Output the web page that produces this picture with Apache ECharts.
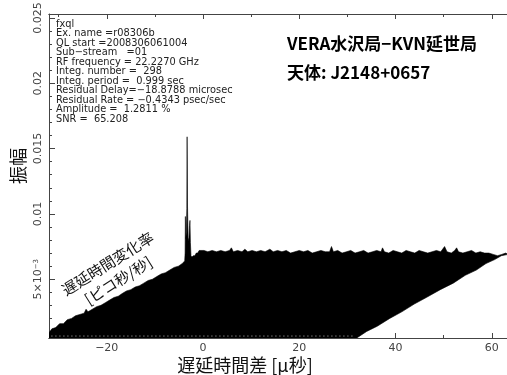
<!DOCTYPE html>
<html>
<head>
<meta charset="utf-8">
<script src="https://cdn.jsdelivr.net/npm/echarts@6/dist/echarts.min.js"></script>
<style>
  html, body { margin: 0; padding: 0; background: #fff; }
  #chart { width: 507px; height: 375px; }
</style>
</head>
<body>
<div id="chart"></div>
<script>
// delay axis (microsec)
const delayMin = -32;
const delayMax = 64;
const delayMajorTicks = [-20, 0, 20, 40, 60];
const delayMinorTicks = [-30, -10, 10, 30, 50];

// amplitude axis
const ampMin = 0.0005;
const ampMax = 0.0253;
const ampMajorTicks = [0.005, 0.01, 0.015, 0.02, 0.025];
const ampMinorTicks = [0.001, 0.002, 0.003, 0.004, 0.006, 0.007, 0.008, 0.009, 0.011, 0.012,
  0.013, 0.014, 0.016, 0.017, 0.018, 0.019, 0.021, 0.022, 0.023, 0.024];
const ampTickLabels = { 0.005: "5×10{sup|−3}", 0.01: "0.01", 0.015: "0.015", 0.02: "0.02", 0.025: "0.025" };

// outline of the delay / rate fringe surface, [delay, amplitude]
const leftEdge = [
  [-32, 0.0005], [-32, 0.0009], [-31.4, 0.0012], [-30.6, 0.0013], [-29.8, 0.0016], [-29.0, 0.0016],
  [-28.2, 0.0019], [-27.3, 0.0020], [-26.5, 0.0022], [-25.6, 0.0023], [-24.7, 0.0024], [-24.3, 0.0027],
  [-23.9, 0.0025], [-23.0, 0.0027], [-22.1, 0.0029], [-21.2, 0.0030], [-20.3, 0.0032], [-19.4, 0.0034],
  [-18.5, 0.0036], [-17.6, 0.0037], [-16.8, 0.0039], [-15.9, 0.0041], [-15.0, 0.0042], [-14.1, 0.0044],
  [-13.2, 0.0045], [-12.3, 0.0047], [-11.4, 0.0049], [-10.5, 0.0050], [-9.6, 0.0052], [-8.7, 0.0054],
  [-7.8, 0.0055], [-6.9, 0.0057], [-6.0, 0.0059], [-5.1, 0.0060], [-4.3, 0.0062], [-3.8, 0.0064],
];
const spike = [
  [-3.72, 0.0070], [-3.66, 0.0098], [-3.58, 0.0081], [-3.46, 0.0086], [-3.36, 0.0104], [-3.30, 0.0159],
  [-3.22, 0.0106], [-3.10, 0.0082], [-2.95, 0.0079], [-2.80, 0.0091], [-2.71, 0.0095], [-2.62, 0.0078],
  [-2.50, 0.0068], [-2.3, 0.0067], [-2.0, 0.0068], [-1.7, 0.0068], [-1.4, 0.0070], [-1.1, 0.0070],
];
const topEdge = [
  [-0.8, 0.0072], [0.2, 0.0072], [1.0, 0.0071], [1.9, 0.0072], [2.8, 0.0071], [3.7, 0.0072], [4.6, 0.0071],
  [5.5, 0.0072], [5.9, 0.0074], [6.3, 0.0071], [7.2, 0.0072], [8.1, 0.0071], [8.7, 0.0073], [9.3, 0.0071],
  [10.2, 0.0072], [11.1, 0.0071], [12.0, 0.0072], [12.9, 0.0071], [13.9, 0.0073], [14.6, 0.0071],
  [15.5, 0.0072], [16.4, 0.0071], [17.3, 0.0072], [18.2, 0.0070], [19.1, 0.0071], [20.0, 0.0072],
  [20.9, 0.0071], [21.8, 0.0072], [22.7, 0.0070], [23.6, 0.0071], [24.5, 0.0072], [25.4, 0.0071],
  [26.3, 0.0071], [26.7, 0.0075], [27.1, 0.0071], [28.0, 0.0072], [28.9, 0.0070], [29.8, 0.0071],
  [30.7, 0.0072], [31.6, 0.0070], [32.5, 0.0071], [33.4, 0.0072], [34.3, 0.0070], [35.2, 0.0071],
  [36.1, 0.0072], [37.0, 0.0071], [37.3, 0.0074], [37.7, 0.0071], [38.6, 0.0070], [39.5, 0.0072],
  [40.4, 0.0071], [41.3, 0.0070], [42.2, 0.0072], [43.1, 0.0071], [44.0, 0.0070], [44.9, 0.0072],
  [45.8, 0.0071], [46.7, 0.0070], [47.6, 0.0071], [48.5, 0.0072], [49.4, 0.0071], [50.2, 0.0075],
  [50.7, 0.0071], [51.6, 0.0070], [52.3, 0.0072], [52.7, 0.0074], [53.1, 0.0071], [54.0, 0.0070],
  [54.9, 0.0071], [55.8, 0.0072], [56.7, 0.0070], [57.6, 0.0071], [58.5, 0.0070], [59.4, 0.0070],
  [60.3, 0.0069], [61.2, 0.0068], [62.1, 0.0069], [62.9, 0.0070],
];
const rightEdge = [
  [63.4, 0.0069], [62.0, 0.0068], [60.6, 0.0065], [58.8, 0.0062], [56.8, 0.0057], [54.5, 0.0053],
  [52.0, 0.0047], [49.3, 0.0042], [46.4, 0.0036], [43.9, 0.0031], [41.3, 0.0025], [38.8, 0.0020],
  [36.2, 0.0014], [34.0, 0.0010], [31.95, 0.0005],
];
const bottomEdge = [[31.95, 0.0005], [-32, 0.0005]];
// faint white speckle along the front row
const frontRow = [[-31.5, 0.00065], [31.5, 0.00065]];

const infoLines = [
  "fxql",
  "Ex. name =r08306b",
  "QL start =2008306061004",
  "Sub−stream   =01",
  "RF frequency = 22.2270 GHz",
  "Integ. number =  298",
  "Integ. period =  0.999 sec",
  "Residual Delay=−18.8788 microsec",
  "Residual Rate = −0.4343 psec/sec",
  "Amplitude =  1.2811 %",
  "SNR =  65.208",
];

const outline = [].concat(leftEdge, spike, topEdge, rightEdge, bottomEdge);

const axisColor = "#444";
const labelColor = "#444";
const cjkFont = "'Noto Sans CJK JP', sans-serif";

function delayAxis(position, ticks, len, labels) {
  return {
    type: "value",
    position: position,
    min: delayMin,
    max: delayMax,
    axisLine: { show: true, onZero: false, lineStyle: { color: axisColor, width: 1 } },
    axisTick: { show: true, inside: true, length: len, customValues: ticks, lineStyle: { color: axisColor } },
    axisLabel: labels
      ? {
          show: true,
          customValues: ticks,
          margin: 5,
          color: labelColor,
          fontSize: 11,
          fontFamily: "'DejaVu Sans', sans-serif",
          formatter: (v) => String(v).replace("-", "−"),
        }
      : { show: false },
    splitLine: { show: false },
  };
}

function ampAxis(ticks, len, labels) {
  return {
    type: "value",
    position: "left",
    min: ampMin,
    max: ampMax,
    axisLine: { show: labels, onZero: false, lineStyle: { color: axisColor, width: 1 } },
    axisTick: { show: true, inside: true, length: len, customValues: ticks, lineStyle: { color: axisColor } },
    axisLabel: labels
      ? {
          show: true,
          customValues: ticks,
          rotate: 90,
          margin: 5,
          color: labelColor,
          fontSize: 11,
          fontFamily: "'DejaVu Sans', sans-serif",
          formatter: (v) => ampTickLabels[v] || String(v),
          rich: { sup: { fontSize: 7, verticalAlign: "top", color: labelColor } },
        }
      : { show: false },
    splitLine: { show: false },
  };
}

const chart = echarts.init(document.getElementById("chart"), null, { renderer: "canvas" });

const option = {
  backgroundColor: "#fff",
  animation: false,
  title: [
    {
      text: "VERA水沢局−KVN延世局",
      left: 287,
      top: 35,
      padding: 0,
      textStyle: { fontFamily: cjkFont, fontSize: 17, fontWeight: "bold", color: "#000" },
    },
    {
      text: "天体: J2148+0657",
      left: 287,
      top: 64,
      padding: 0,
      textStyle: { fontFamily: cjkFont, fontSize: 17, fontWeight: "bold", color: "#000" },
    },
  ],
  grid: {
    left: 49,
    right: -4,
    top: 14,
    bottom: 37,
    outerBoundsMode: "none",
  },
  xAxis: [
    delayAxis("bottom", delayMajorTicks, 5, true),
    delayAxis("bottom", delayMinorTicks, 3, false),
    delayAxis("top", delayMajorTicks, 5, false),
    delayAxis("top", delayMinorTicks, 3, false),
  ],
  yAxis: [ampAxis(ampMajorTicks, 6, true), ampAxis(ampMinorTicks, 3, false)],
  graphic: [
    {
      type: "text",
      x: 56,
      y: 19.3,
      silent: true,
      style: {
        text: infoLines.join("\n"),
        font: "9.8px 'DejaVu Sans', sans-serif",
        lineHeight: 9.53,
        fill: "#222",
      },
    },
    {
      type: "text",
      x: 18,
      y: 166,
      rotation: Math.PI / 2,
      silent: true,
      style: {
        text: "振幅",
        font: "18px " + cjkFont,
        fill: "#111",
        align: "center",
        verticalAlign: "middle",
      },
    },
    {
      type: "text",
      x: 245,
      y: 365,
      silent: true,
      style: {
        text: "遅延時間差 [μ秒]",
        font: "18px " + cjkFont,
        fill: "#111",
        align: "center",
        verticalAlign: "middle",
      },
    },
    {
      type: "text",
      x: 113,
      y: 272,
      rotation: (32 * Math.PI) / 180,
      silent: true,
      style: {
        text: "遅延時間変化率\n[ピコ秒/秒]",
        font: "15px " + cjkFont,
        lineHeight: 20,
        fill: "#111",
        align: "center",
        verticalAlign: "middle",
      },
    },
  ],
  series: [
    {
      type: "custom",
      coordinateSystem: "cartesian2d",
      xAxisIndex: 0,
      yAxisIndex: 0,
      data: outline,
      clip: true,
      silent: true,
      renderItem: (params, api) => {
        if (params.dataIndex !== 0) {
          return null;
        }
        return {
          type: "polygon",
          shape: { points: outline.map((p) => api.coord(p)) },
          style: { fill: "#000", stroke: "#000", lineWidth: 0.6 },
        };
      },
    },
    {
      type: "line",
      xAxisIndex: 0,
      yAxisIndex: 0,
      data: frontRow,
      symbol: "none",
      silent: true,
      z: 3,
      lineStyle: { color: "#fff", width: 1, type: [1, 3], opacity: 0.7 },
    },
  ],
};

chart.setOption(option);
</script>
</body>
</html>
